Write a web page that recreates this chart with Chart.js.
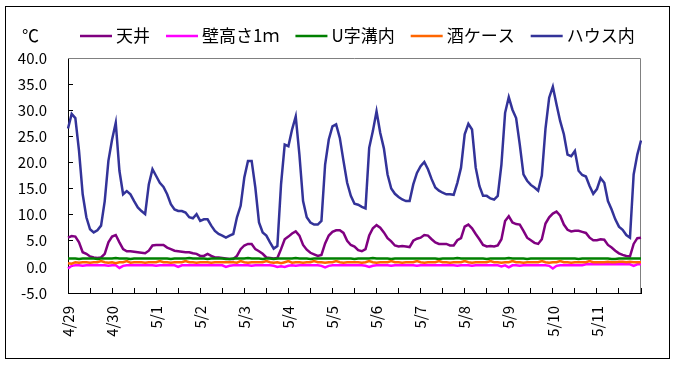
<!DOCTYPE html>
<html>
<head>
<meta charset="utf-8">
<script src="https://cdn.jsdelivr.net/npm/chart.js@4.4.0/dist/chart.umd.min.js"></script>
<style>
  html, body { margin: 0; padding: 0; background: #fff; }
  canvas { display: block; }
</style>
</head>
<body>
<canvas id="chart" width="681" height="367"></canvas>
<script>
// 日付（1日あたり2時間ごとの計測値）
const days = ['4/29', '4/30', '5/1', '5/2', '5/3', '5/4', '5/5', '5/6', '5/7', '5/8', '5/9', '5/10', '5/11'];
const endDay = '5/12';
const stepHours = 2;

const seriesNames = ['天井', '壁高さ1ｍ', 'U字溝内', '酒ケース', 'ハウス内'];
const seriesColors = ['#800080', '#FF00FF', '#008000', '#FF6600', '#333399'];

// 天井
const tenjo = [
  5.6, 5.9, 5.8, 4.7, 2.8, 2.5, 2.0, 1.8, 1.7, 1.8, 2.5, 4.7,
  5.8, 6.1, 4.7, 3.4, 3.0, 3.0, 2.9, 2.8, 2.7, 2.6, 3.1, 4.1,
  4.2, 4.2, 4.2, 3.7, 3.4, 3.1, 3.0, 2.9, 2.8, 2.8, 2.6, 2.5,
  2.1, 2.1, 2.5, 2.1, 1.8, 1.8, 1.7, 1.6, 1.5, 1.5, 2.1, 3.4,
  4.1, 4.4, 4.4, 3.4, 3.0, 2.5, 1.8, 1.7, 1.6, 1.7, 3.4, 5.3,
  5.8, 6.4, 6.8, 6.0, 4.2, 3.3, 2.7, 2.4, 2.1, 2.3, 4.5, 6.0,
  6.7, 7.0, 7.0, 6.5, 5.0, 4.2, 3.9, 3.2, 3.0, 3.4, 6.0, 7.4,
  8.0, 7.5, 6.6, 5.5, 4.9, 4.1, 3.9, 4.0, 3.9, 3.8, 5.0, 5.4,
  5.6, 6.1, 6.0, 5.3, 4.7, 4.4, 4.4, 4.4, 4.1, 4.1, 5.1, 5.5,
  7.7, 8.1, 7.4, 6.3, 5.3, 4.2, 3.9, 4.0, 3.9, 4.1, 5.3, 8.8,
  9.7, 8.5, 8.2, 8.1, 6.9, 5.6, 5.1, 4.6, 4.4, 5.3, 8.3, 9.5,
  10.2, 10.6, 9.8, 8.1, 7.1, 6.8, 6.9, 6.9, 6.7, 6.5, 5.6, 5.1,
  5.1, 5.3, 5.2, 4.2, 3.7, 3.1, 2.6, 2.3, 2.1, 2.0, 4.4, 5.5,
  5.6
];

// 壁高さ1ｍ
const kabe = [
  -0.3, 0.2, 0.3, 0.3, 0.2, 0.3, 0.3, 0.3, 0.3, 0.3, 0.3, 0.2,
  0.3, 0.3, -0.2, 0.2, 0.3, 0.3, 0.3, 0.3, 0.3, 0.3, 0.3, 0.3,
  0.2, 0.3, 0.3, 0.3, 0.3, 0.3, 0.0, 0.3, 0.3, 0.3, 0.3, 0.3,
  0.3, 0.3, 0.3, 0.3, 0.3, 0.3, 0.3, 0.0, 0.2, 0.3, 0.3, 0.3,
  0.3, 0.3, 0.2, 0.3, 0.3, 0.3, 0.3, 0.3, 0.2, 0.0, 0.1, 0.0,
  0.2, 0.3, 0.2, 0.3, 0.3, 0.3, 0.3, 0.3, 0.3, 0.2, -0.1, 0.2,
  0.3, 0.3, 0.3, 0.3, 0.3, 0.3, 0.3, 0.3, 0.3, 0.2, 0.0, 0.2,
  0.3, 0.3, 0.3, 0.3, 0.2, 0.3, 0.3, 0.3, 0.3, 0.3, 0.3, 0.2,
  0.3, 0.3, 0.3, 0.3, 0.3, 0.3, 0.3, 0.3, 0.3, 0.3, 0.2, 0.3,
  0.3, 0.3, 0.2, 0.3, 0.3, 0.3, 0.3, 0.3, 0.3, 0.3, 0.1, 0.3,
  -0.1, 0.3, 0.3, 0.2, 0.3, 0.3, 0.3, 0.3, 0.3, 0.3, 0.3, 0.2,
  -0.3, 0.2, 0.3, 0.3, 0.3, 0.3, 0.3, 0.3, 0.3, 0.5, 0.5, 0.5,
  0.5, 0.5, 0.5, 0.5, 0.5, 0.5, 0.5, 0.5, 0.5, 0.5, 0.2, 0.5,
  0.5
];

// U字溝内
const uJiko = [
  1.6, 1.6, 1.6, 1.5, 1.6, 1.6, 1.6, 1.6, 1.5, 1.6, 1.6, 1.6,
  1.6, 1.7, 1.6, 1.6, 1.6, 1.5, 1.6, 1.6, 1.6, 1.6, 1.6, 1.6,
  1.6, 1.6, 1.6, 1.6, 1.5, 1.6, 1.6, 1.6, 1.6, 1.7, 1.6, 1.6,
  1.6, 1.6, 1.5, 1.6, 1.6, 1.6, 1.6, 1.5, 1.5, 1.6, 1.6, 1.6,
  1.6, 1.7, 1.6, 1.6, 1.6, 1.5, 1.6, 1.6, 1.5, 1.6, 1.6, 1.6,
  1.6, 1.6, 1.7, 1.6, 1.6, 1.6, 1.5, 1.6, 1.6, 1.6, 1.6, 1.6,
  1.6, 1.6, 1.6, 1.6, 1.6, 1.6, 1.5, 1.6, 1.6, 1.6, 1.6, 1.7,
  1.6, 1.6, 1.6, 1.6, 1.5, 1.6, 1.6, 1.6, 1.6, 1.6, 1.6, 1.6,
  1.6, 1.6, 1.6, 1.6, 1.6, 1.5, 1.6, 1.6, 1.6, 1.6, 1.7, 1.6,
  1.6, 1.6, 1.6, 1.6, 1.6, 1.6, 1.5, 1.6, 1.6, 1.6, 1.6, 1.6,
  1.7, 1.6, 1.6, 1.6, 1.6, 1.5, 1.6, 1.6, 1.6, 1.6, 1.6, 1.6,
  1.6, 1.6, 1.6, 1.6, 1.6, 1.6, 1.6, 1.5, 1.6, 1.6, 1.6, 1.6,
  1.6, 1.6, 1.6, 1.6, 1.5, 1.5, 1.6, 1.6, 1.6, 1.6, 1.6, 1.6,
  1.6
];

// 酒ケース
const sakeCase = [
  0.7, 0.6, 0.9, 0.8, 0.9, 0.9, 0.8, 0.9, 0.9, 1.1, 0.9, 0.8,
  0.9, 0.7, 0.9, 0.9, 1.1, 0.8, 0.9, 0.9, 0.9, 0.8, 0.9, 0.9,
  0.9, 1.1, 0.9, 0.9, 0.8, 0.9, 0.9, 0.9, 1.1, 0.9, 0.9, 0.8,
  0.9, 0.9, 0.9, 0.8, 0.9, 0.9, 0.9, 0.9, 0.9, 0.9, 0.8, 1.1,
  0.9, 0.8, 0.9, 0.9, 0.9, 0.9, 1.1, 0.9, 0.8, 0.9, 0.7, 0.9,
  1.1, 0.8, 0.9, 0.9, 0.8, 0.9, 0.9, 1.1, 0.9, 0.9, 0.8, 0.9,
  0.9, 1.1, 0.9, 0.8, 0.9, 0.9, 0.9, 0.9, 0.8, 0.9, 1.1, 0.9,
  0.8, 0.9, 0.9, 0.9, 1.1, 0.9, 0.9, 0.8, 0.9, 0.9, 0.9, 1.1,
  0.9, 0.8, 0.9, 0.9, 0.9, 1.1, 0.9, 0.9, 0.8, 0.9, 0.9, 0.9,
  1.1, 0.9, 0.8, 0.9, 0.9, 0.9, 0.9, 1.1, 0.9, 0.9, 0.8, 0.9,
  0.9, 1.1, 0.9, 0.9, 0.8, 0.9, 0.9, 0.9, 0.9, 1.1, 0.9, 0.8,
  0.9, 0.9, 1.1, 0.9, 0.9, 0.8, 0.9, 0.9, 0.9, 0.9, 1.1, 0.9,
  0.9, 0.9, 0.9, 1.0, 0.9, 0.9, 1.0, 1.0, 0.9, 1.0, 0.9, 0.9,
  0.9
];

// ハウス内
const house = [
  26.5, 29.3, 28.5, 22.2, 13.9, 9.5, 7.2, 6.6, 7.0, 7.9, 12.6, 20.3,
  24.4, 27.6, 18.4, 13.9, 14.5, 13.9, 12.6, 11.4, 10.7, 10.1, 15.8, 18.7,
  17.4, 16.1, 15.3, 13.9, 12.0, 11.0, 10.7, 10.7, 10.4, 9.5, 9.3, 10.1,
  8.8, 9.1, 9.1, 7.9, 6.9, 6.3, 6.0, 5.6, 6.0, 6.3, 9.5, 11.7,
  17.1, 20.3, 20.3, 15.2, 8.5, 6.6, 6.0, 4.7, 3.5, 4.0, 15.8, 23.4,
  23.1, 26.3, 28.8, 21.5, 12.6, 9.5, 8.5, 8.1, 8.1, 8.8, 19.6, 24.4,
  26.9, 27.3, 24.7, 20.3, 16.1, 13.6, 12.1, 11.9, 11.5, 11.2, 22.8, 26.0,
  29.8, 25.7, 22.7, 17.7, 15.0, 14.0, 13.4, 12.9, 12.6, 12.6, 15.8, 18.0,
  19.3, 20.1, 18.7, 16.8, 15.2, 14.6, 14.2, 13.9, 13.9, 13.8, 16.1, 19.0,
  25.4, 27.4, 26.3, 19.0, 15.5, 13.6, 13.6, 13.1, 12.9, 13.6, 19.6, 29.5,
  32.5, 30.1, 28.5, 23.4, 17.7, 16.5, 15.7, 15.2, 14.6, 17.5, 26.5, 32.4,
  34.5, 31.1, 27.9, 25.4, 21.5, 21.2, 22.2, 18.4, 17.6, 17.3, 15.5, 14.0,
  14.9, 17.0, 16.1, 12.6, 11.0, 9.1, 7.7, 7.1, 6.1, 5.6, 17.7, 21.5,
  24.2
];

const yMin = -5, yMax = 40, yStep = 5;

// ---- ラベル作成 ----
const perDay = 24 / stepHours;
const labels = [];
days.forEach(d => {
  for (let h = 0; h < 24; h += stepHours) labels.push(d + ' ' + h + ':00');
});
labels.push(endDay + ' 0:00');

const values = [tenjo, kabe, uJiko, sakeCase, house];
const FONT = '"Noto Sans CJK JP", "Noto Sans", sans-serif';

// 外枠・プロット枠・凡例・単位
const framePlugin = {
  id: 'frame',
  beforeDatasetsDraw(chart) {
    const { ctx, chartArea: a } = chart;
    ctx.save();
    ctx.strokeStyle = '#808080';
    ctx.lineWidth = 1;
    ctx.beginPath();
    ctx.moveTo(a.left, a.top + 0.5);
    ctx.lineTo(a.right - 0.5, a.top + 0.5);
    ctx.lineTo(a.right - 0.5, a.bottom);
    ctx.stroke();
    ctx.restore();
  },
  afterDraw(chart) {
    const { ctx } = chart;
    ctx.save();
    ctx.strokeStyle = '#000';
    ctx.lineWidth = 1;
    ctx.strokeRect(5.5, 6.5, 664, 352);

    ctx.font = '17px ' + FONT;
    ctx.fillStyle = '#000';
    ctx.textBaseline = 'middle';
    ctx.fillText('℃', 22, 36);

    let x = 80;
    chart.data.datasets.forEach(ds => {
      ctx.strokeStyle = ds.borderColor;
      ctx.lineWidth = 2.5;
      ctx.beginPath();
      ctx.moveTo(x, 36);
      ctx.lineTo(x + 32, 36);
      ctx.stroke();
      ctx.fillStyle = '#000';
      ctx.fillText(ds.label, x + 36, 36);
      x += 36 + ctx.measureText(ds.label).width + 16;
    });
    ctx.restore();
  }
};

new Chart(document.getElementById('chart'), {
  type: 'line',
  data: {
    labels: labels,
    datasets: seriesNames.map((name, i) => ({
      label: name,
      data: values[i],
      borderColor: seriesColors[i],
      backgroundColor: seriesColors[i],
      borderWidth: 2.5,
      pointRadius: 0,
      tension: 0,
      order: seriesNames.length - i
    }))
  },
  options: {
    responsive: false,
    animation: false,
    events: [],
    layout: { padding: { top: 58, right: 40, left: 0, bottom: 0 } },
    plugins: { legend: { display: false }, tooltip: { enabled: false } },
    scales: {
      x: {
        type: 'category',
        offset: false,
        afterFit: s => { s.height = 74; },
        grid: {
          drawOnChartArea: false,
          tickLength: -5,
          color: c => (c.index % (perDay / 2) === 0 ? '#000' : 'rgba(0,0,0,0)')
        },
        border: { color: '#000' },
        ticks: {
          autoSkip: false,
          minRotation: 90,
          maxRotation: 90,
          padding: 18,
          color: '#000',
          font: { family: FONT, size: 15 },
          callback: (v, i) => (i % perDay === 0 && i < labels.length - 1 ? days[i / perDay] : '')
        }
      },
      y: {
        min: yMin,
        max: yMax,
        afterFit: s => { s.width = 68; },
        grid: { drawOnChartArea: false, tickLength: -5, color: '#000' },
        border: { color: '#000' },
        ticks: {
          stepSize: yStep,
          padding: 26,
          color: '#000',
          font: { family: FONT, size: 15 },
          callback: v => v.toFixed(1)
        }
      }
    }
  },
  plugins: [framePlugin]
});
</script>
</body>
</html>
